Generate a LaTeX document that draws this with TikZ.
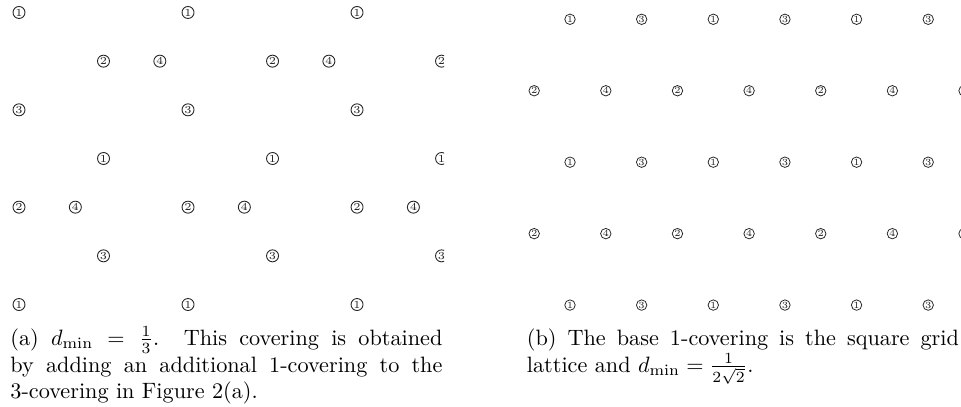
\documentclass[tikz,border=0pt]{standalone}
\usepackage{amsmath}
\setlength{\parindent}{0pt}
\begin{document}
\begin{tikzpicture}[x=0.45pt,y=-0.45pt,
  cnuma/.style={circle,draw=black!85,line width=0.4pt,inner sep=0pt,minimum size=5.4pt,text=black!85,font=\fontsize{4.8}{5}\selectfont},
  cnumb/.style={circle,draw=black!85,line width=0.35pt,inner sep=0pt,minimum size=4.7pt,text=black!85,font=\fontsize{4.2}{4.5}\selectfont},
  capbox/.style={text width=194.4pt,align=justify,inner sep=0pt,anchor=base west,font=\fontsize{10}{12}\selectfont}]
\useasboundingbox (0,0) rectangle (961,407);
% (a)
\begin{scope}
\clip (0,0) rectangle (444,330);
\foreach \r/\c/\d in {0/0/1,0/6/1,0/12/1,
  1/3/2,1/9/2,1/15/2,1/5/4,1/11/4,1/17/4,
  2/0/3,2/6/3,2/12/3,
  3/3/1,3/9/1,3/15/1,
  4/0/2,4/6/2,4/12/2,4/2/4,4/8/4,4/14/4,
  5/3/3,5/9/3,5/15/3,
  6/0/1,6/6/1,6/12/1}
  \node[cnuma] (a-\r-\c) at ({19+28.17*\c},{12.5+48.67*\r}) {\d};
\end{scope}
% (b)
\begin{scope}
\clip (450,0) rectangle (961,330);
\foreach \r in {0,2,4}{
  \foreach \c/\d in {0/1,4/1,8/1,2/3,6/3,10/3}
    \node[cnumb] (b-\r-\c) at ({570+35.82*\c},{19.3+71.45*\r}) {\d};
}
\foreach \r in {1,3}{
  \foreach \c/\d in {-1/2,3/2,7/2,11/2,1/4,5/4,9/4}
    \node[cnumb] (b-\r-\c) at ({570+35.82*\c},{19.3+71.45*\r}) {\d};
}
\end{scope}
% captions
\node[capbox] (capa) at (10,345.5) {(a) $d_{\min}=\frac{1}{3}$. This covering is obtained by adding an additional 1-covering to the \mbox{3-covering} in Figure 2(a).};
\node[capbox] (capb) at (526.5,345.5) {(b) The base 1-covering is the square grid lattice and $d_{\min}=\frac{1}{2\sqrt{2}}$.};
\end{tikzpicture}
\end{document}
